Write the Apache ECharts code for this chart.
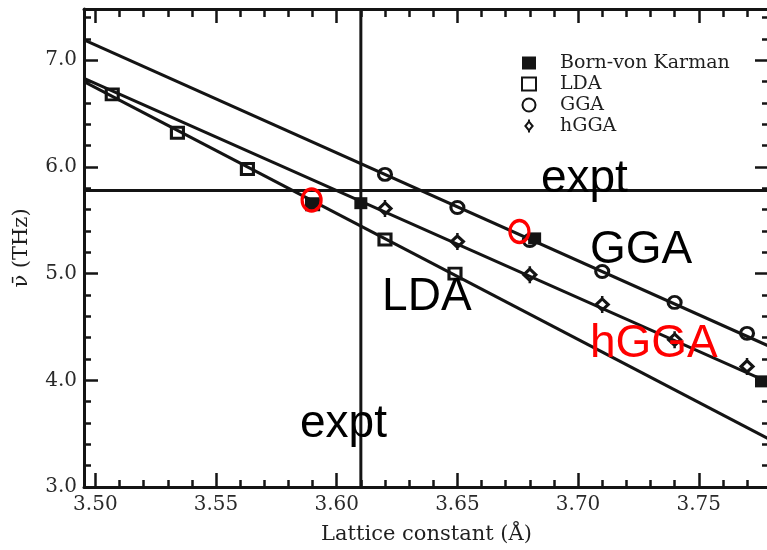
<!DOCTYPE html>
<html>
<head>
<meta charset="utf-8">
<script src="https://cdn.jsdelivr.net/npm/echarts@6/dist/echarts.min.js"></script>
<style>
  html, body { margin: 0; padding: 0; background: #fff; }
  #chart { width: 767px; height: 550px; }
</style>
</head>
<body>
<div id="chart"></div>
<script>
// Axis extents and tick positions
const latticeRange = [3.4953, 3.7791];
const freqRange = [3.0, 7.48];
const latticeTicks = [3.50, 3.55, 3.60, 3.65, 3.70, 3.75];
const latticeMinorTicks = [3.51, 3.52, 3.53, 3.54, 3.56, 3.57, 3.58, 3.59, 3.61, 3.62, 3.63, 3.64,
                           3.66, 3.67, 3.68, 3.69, 3.71, 3.72, 3.73, 3.74, 3.76, 3.77];
const freqTicks = [3, 4, 5, 6, 7];
const freqMinorTicks = [3.2, 3.4, 3.6, 3.8, 4.2, 4.4, 4.6, 4.8, 5.2, 5.4, 5.6, 5.8,
                        6.2, 6.4, 6.6, 6.8, 7.2, 7.4];

// Calculated mean phonon frequency (THz) vs lattice constant (Å)
const ldaLattice  = [3.507, 3.534, 3.563, 3.590, 3.620, 3.649];
const ldaFreq     = [6.68, 6.32, 5.98, 5.65, 5.32, 5.00];
const ggaLattice  = [3.62, 3.65, 3.68, 3.71, 3.74, 3.77];
const ggaFreq     = [5.93, 5.62, 5.31, 5.02, 4.73, 4.44];
const hggaLattice = [3.62, 3.65, 3.68, 3.71, 3.74, 3.77];
const hggaFreq    = [5.61, 5.30, 4.99, 4.71, 4.38, 4.13];
const bvkLattice  = [3.590, 3.610, 3.682, 3.776];
const bvkFreq     = [5.65, 5.66, 5.33, 3.99];

// Linear fits, evaluated at the ends of the lattice axis
const fitLattice = [3.4953, 3.7791];
const ldaFit  = [6.80, 3.45];
const ggaFit  = [7.19, 4.32];
const hggaFit = [6.83, 3.98];

// Experimental lattice constant and mean frequency
const exptLattice = 3.61;
const exptFreq = 5.78;

// Highlighted points (red rings)
const ringLattice = [3.5896, 3.6757];
const ringFreq    = [5.69, 5.395];

// Text annotations, anchored at their left edge
const noteText    = ['expt', 'GGA', 'LDA', 'hGGA', 'expt'];
const noteLattice = [3.6846, 3.7049, 3.6188, 3.7049, 3.5848];
const noteFreq    = [5.887, 5.221, 4.781, 4.340, 3.590];
const noteColor   = ['#000', '#000', '#000', '#ff0000', '#000'];

const ink = '#141414';
const serif = 'DejaVu Serif';

const pairs = (xs, ys) => xs.map((x, i) => [x, ys[i]]);

function axis(dim, position, values, len, withLabels, withLine) {
  return {
    type: 'value',
    position: position,
    min: dim === 'x' ? latticeRange[0] : freqRange[0],
    max: dim === 'x' ? latticeRange[1] : freqRange[1],
    scale: true,
    splitLine: { show: false },
    axisLine: { show: withLine, onZero: false, lineStyle: { color: ink, width: 3 } },
    axisTick: { show: true, inside: true, length: len, customValues: values,
                lineStyle: { color: ink, width: 2.5 } },
    axisLabel: { show: withLabels, customValues: values,
                 fontFamily: serif, fontSize: 20, color: '#2a2a2a',
                 margin: dim === 'x' ? 8 : 7,
                 formatter: v => dim === 'x' ? v.toFixed(2) : v.toFixed(1) },
    minorTick: { show: false },
    minorSplitLine: { show: false }
  };
}

const xMain = axis('x', 'bottom', latticeTicks, 14, true, true);
xMain.name = 'Lattice constant (Å)';
xMain.nameLocation = 'middle';
xMain.nameGap = 37;
xMain.nameTextStyle = { fontFamily: serif, fontSize: 21, color: '#1f1f1f' };

const yMain = axis('y', 'left', freqTicks, 14, true, true);
yMain.name = 'ν̄ (THz)';
yMain.nameLocation = 'middle';
yMain.nameRotate = 90;
yMain.nameGap = 52;
yMain.nameTextStyle = { fontFamily: serif, fontSize: 21, color: '#1f1f1f' };

const chart = echarts.init(document.getElementById('chart'), null, { renderer: 'canvas' });

const fitLine = (name, ys) => ({
  type: 'line', name: name + ' fit', data: pairs(fitLattice, ys),
  symbol: 'none', silent: true, z: 2,
  lineStyle: { color: ink, width: 3 }
});

const markerStyle = { color: 'rgba(255,255,255,0)', borderColor: ink, borderWidth: 3, opacity: 1 };

const hggaSymbol = 'path://M6,3 L11,9 L6,15 L1,9 Z M6,0 L6,3 M6,15 L6,18';

chart.setOption({
  animation: false,
  backgroundColor: '#fff',
  grid: { left: 84, top: 9, right: -2, bottom: 63, containLabel: false, outerBoundsMode: 'none' },
  xAxis: [
    xMain,
    axis('x', 'bottom', latticeMinorTicks, 7, false, false),
    axis('x', 'top', latticeTicks, 14, false, true),
    axis('x', 'top', latticeMinorTicks, 8, false, false)
  ],
  yAxis: [
    yMain,
    axis('y', 'left', freqMinorTicks, 7, false, false),
    axis('y', 'right', freqTicks, 14, false, true),
    axis('y', 'right', freqMinorTicks, 7, false, false)
  ],
  legend: {
    orient: 'vertical',
    left: 516, top: 48,
    itemWidth: 14, itemHeight: 13, itemGap: 1,
    data: ['Born-von Karman', 'LDA', 'GGA', 'hGGA'],
    textStyle: { fontFamily: serif, fontSize: 19, color: '#1f1f1f', lineHeight: 20,
                 padding: [0, 0, 0, 19] },
    selectedMode: false
  },
  series: [
    fitLine('LDA', ldaFit),
    fitLine('GGA', ggaFit),
    fitLine('hGGA', hggaFit),
    {
      type: 'line', name: 'expt lattice', silent: true, symbol: 'none', z: 2,
      data: [[exptLattice, freqRange[0]], [exptLattice, freqRange[1]]],
      lineStyle: { color: ink, width: 3 }
    },
    {
      type: 'line', name: 'expt frequency', silent: true, symbol: 'none', z: 2,
      data: [[latticeRange[0], exptFreq], [latticeRange[1], exptFreq]],
      lineStyle: { color: ink, width: 3 }
    },
    {
      type: 'scatter', name: 'LDA', data: pairs(ldaLattice, ldaFreq),
      symbol: 'rect', symbolSize: [12, 11], itemStyle: markerStyle, z: 4
    },
    {
      type: 'scatter', name: 'GGA', data: pairs(ggaLattice, ggaFreq),
      symbol: 'circle', symbolSize: [13, 12], itemStyle: markerStyle, z: 4
    },
    {
      type: 'scatter', name: 'hGGA', data: pairs(hggaLattice, hggaFreq),
      symbol: hggaSymbol, symbolSize: [12, 17], itemStyle: markerStyle, z: 4
    },
    {
      type: 'scatter', name: 'Born-von Karman', data: pairs(bvkLattice, bvkFreq),
      symbol: 'rect', symbolSize: [13, 12], itemStyle: { color: ink, opacity: 1 }, z: 5
    },
    {
      type: 'scatter', name: 'highlight', data: pairs(ringLattice, ringFreq), silent: true,
      symbol: 'circle', symbolSize: [19, 22], z: 6,
      itemStyle: { color: 'rgba(255,255,255,0)', borderColor: '#ff0000', borderWidth: 3.4, opacity: 1 }
    },
    {
      type: 'scatter', name: 'notes', silent: true, symbolSize: 0, z: 7,
      itemStyle: { opacity: 1 },
      data: noteText.map((t, i) => ({
        value: [noteLattice[i], noteFreq[i]],
        label: { show: true, formatter: t, position: 'right', distance: 0,
                 fontFamily: 'Liberation Sans', fontSize: 46, color: noteColor[i], opacity: 1 }
      }))
    }
  ]
});
</script>
</body>
</html>
